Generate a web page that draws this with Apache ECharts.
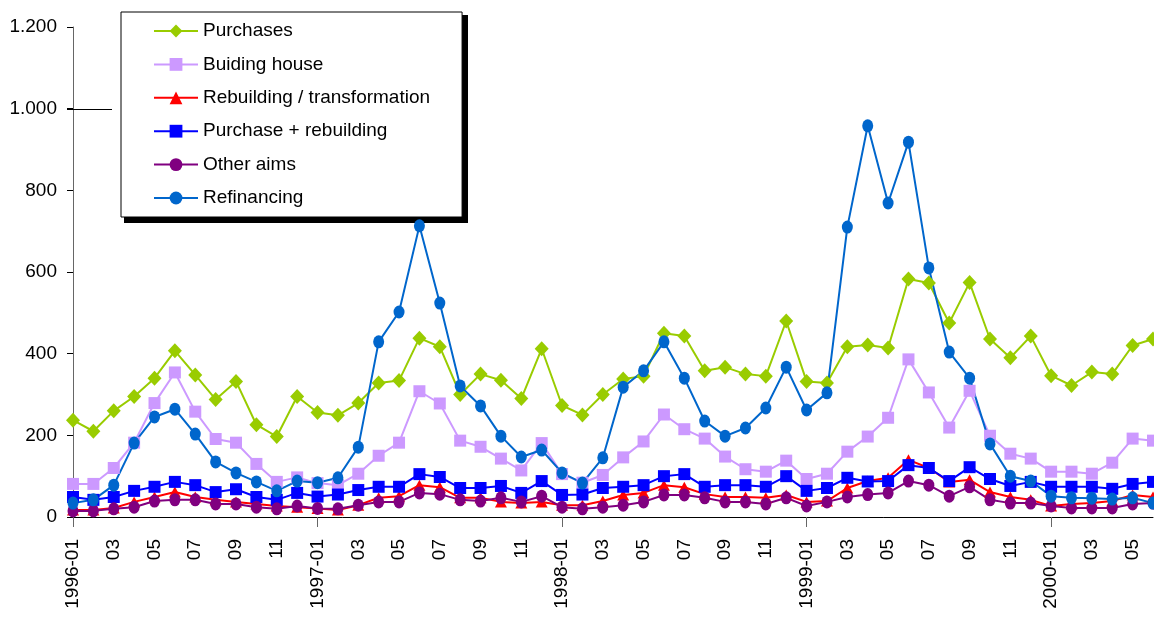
<!DOCTYPE html>
<html>
<head>
<meta charset="utf-8">
<title>Mortgage loans by purpose, 1996-2000</title>
<script src="https://cdn.jsdelivr.net/npm/echarts@6/dist/echarts.min.js"></script>
<style>
  html, body { margin: 0; padding: 0; background: #ffffff; }
  #chart { width: 1154px; height: 621px; }
</style>
</head>
<body>
<div id="chart"></div>
<script>
// Monthly periods, 1996-01 .. 2000-06
const months = [
  '1996-01','1996-02','1996-03','1996-04','1996-05','1996-06','1996-07','1996-08','1996-09','1996-10','1996-11','1996-12',
  '1997-01','1997-02','1997-03','1997-04','1997-05','1997-06','1997-07','1997-08','1997-09','1997-10','1997-11','1997-12',
  '1998-01','1998-02','1998-03','1998-04','1998-05','1998-06','1998-07','1998-08','1998-09','1998-10','1998-11','1998-12',
  '1999-01','1999-02','1999-03','1999-04','1999-05','1999-06','1999-07','1999-08','1999-09','1999-10','1999-11','1999-12',
  '2000-01','2000-02','2000-03','2000-04','2000-05','2000-06'
];

const purchases = [
  237,210,260,295,340,407,348,288,332,226,197,295,
  256,249,279,328,334,438,417,300,350,335,290,412,
  273,250,300,338,345,450,443,358,367,350,345,480,
  332,328,417,421,414,583,573,475,574,436,390,443,
  346,322,355,350,420,436
];

const buildingHouse = [
  81,81,120,182,279,354,258,191,182,130,86,97,
  83,78,106,150,182,308,278,187,172,143,114,181,
  105,84,103,146,185,251,215,192,148,117,111,138,
  93,106,160,197,243,386,305,219,309,199,155,143,
  111,111,106,133,192,187
];

const rebuilding = [
  17,17,22,37,49,61,49,42,37,32,27,24,
  21,17,29,47,51,78,73,47,47,37,34,37,
  29,29,39,54,59,78,73,56,49,49,47,54,
  37,39,71,88,96,140,120,86,91,61,49,42,
  27,32,34,39,54,49
];

const purchaseRebuilding = [
  49,42,49,64,74,86,78,61,68,49,42,59,
  50,55,66,74,74,105,98,71,71,76,59,88,
  54,55,71,74,78,100,105,74,78,78,74,100,
  64,71,96,87,88,127,120,88,122,93,76,86,
  74,74,74,69,81,86
];

const otherAims = [
  15,15,20,24,39,42,42,32,32,24,20,27,
  21,20,29,37,37,59,56,42,39,47,37,51,
  24,20,24,29,37,54,54,47,37,37,32,47,
  27,37,49,55,59,88,78,51,74,42,34,34,
  27,22,22,22,32,34
];

const refinancing = [
  34,42,78,181,245,264,203,135,108,86,64,88,
  84,96,171,429,502,713,524,321,272,198,147,164,
  108,83,145,318,358,429,340,235,198,218,267,367,
  262,304,710,958,769,918,610,404,340,179,100,88,
  51,47,46,44,47,34
];

const yTicks = [0, 200, 400, 600, 800, 1000, 1200];

const FONT = '"Liberation Sans", Arial, sans-serif';

function fmtThousands(v) {
  return String(v).replace(/\B(?=(\d{3})+(?!\d))/g, '.');
}

function makeSeries(name, data, color, symbol, size) {
  return {
    name: name,
    type: 'line',
    data: data,
    symbol: symbol,
    symbolSize: size,
    showAllSymbol: true,
    clip: false,
    lineStyle: { color: color, width: 2 },
    itemStyle: { color: color },
    emphasis: { disabled: true },
    animation: false
  };
}

const chart = echarts.init(document.getElementById('chart'), null, { renderer: 'canvas' });

chart.setOption({
  backgroundColor: '#ffffff',
  animation: false,
  textStyle: { fontFamily: FONT },
  grid: { left: 73, right: 1, top: 27, bottom: 104, containLabel: false },
  legend: {
    orient: 'vertical',
    left: 121,
    top: 12,
    padding: [9, 32, 9, 32],
    itemWidth: 44,
    itemHeight: 16,
    itemGap: 13.4,
    backgroundColor: '#ffffff',
    borderColor: '#000000',
    borderWidth: 1,
    borderRadius: 0,
    textStyle: { fontFamily: FONT, fontSize: 19, lineHeight: 20, color: '#000000' },
    data: ['Purchases', 'Buiding house', 'Rebuilding / transformation', 'Purchase + rebuilding', 'Other aims', 'Refinancing']
  },
  // drop shadow behind the legend frame
  graphic: [
    {
      type: 'rect',
      z: 3,
      silent: true,
      shape: { x: 124, y: 15, width: 344, height: 208 },
      style: { fill: '#000000' }
    }
  ],
  xAxis: {
    type: 'category',
    data: months,
    boundaryGap: false,
    axisLine: { lineStyle: { color: '#000000', width: 1 } },
    axisTick: {
      show: true,
      interval: function (idx) { return idx % 12 === 0; },
      length: 10,
      lineStyle: { color: '#666666', width: 1 }
    },
    axisLabel: {
      interval: 0,
      rotate: 90,
      margin: 22,
      fontFamily: FONT,
      fontSize: 19,
      color: '#000000',
      formatter: function (val, idx) {
        if (idx % 2 !== 0) return '';
        const parts = val.split('-');
        return parts[1] === '01' ? val : parts[1];
      }
    },
    splitLine: { show: false }
  },
  yAxis: {
    type: 'value',
    min: yTicks[0],
    max: yTicks[yTicks.length - 1],
    interval: 200,
    axisLine: { show: true, lineStyle: { color: '#666666', width: 1 } },
    axisTick: { show: true, length: 6, lineStyle: { color: '#000000', width: 1 } },
    axisLabel: {
      margin: 16,
      fontFamily: FONT,
      fontSize: 19,
      color: '#000000',
      formatter: function (v) { return fmtThousands(v); }
    },
    splitLine: { show: false }
  },
  series: [
    makeSeries('Purchases', purchases, '#99CC00', 'diamond', [14, 15]),
    makeSeries('Buiding house', buildingHouse, '#CC99FF', 'rect', 12),
    makeSeries('Rebuilding / transformation', rebuilding, '#FF0000', 'triangle', [12, 11]),
    makeSeries('Purchase + rebuilding', purchaseRebuilding, '#0000FF', 'rect', 12),
    makeSeries('Other aims', otherAims, '#800080', 'circle', [11, 13]),
    makeSeries('Refinancing', refinancing, '#0066CC', 'circle', [11, 13])
  ]
});

// short gridline stub at the 1.000 level, running from the tick to the legend frame
const y1000 = Math.round(chart.convertToPixel({ yAxisIndex: 0 }, 1000)) + 0.5;
chart.setOption({
  graphic: [
    {
      type: 'rect',
      z: 3,
      silent: true,
      shape: { x: 124, y: 15, width: 344, height: 208 },
      style: { fill: '#000000' }
    },
    {
      type: 'line',
      z: 2,
      silent: true,
      shape: { x1: 67, y1: y1000, x2: 112, y2: y1000 },
      style: { stroke: '#000000', lineWidth: 1 }
    }
  ]
});
</script>
</body>
</html>
